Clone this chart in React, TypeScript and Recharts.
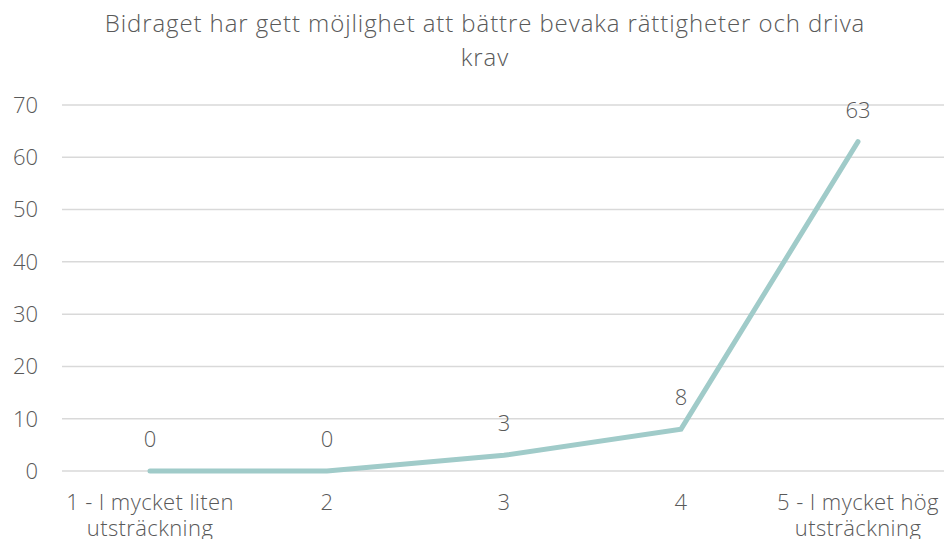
import React from 'react';
import { LineChart, Line, XAxis, YAxis, CartesianGrid, LabelList } from 'recharts';

const categories = ['1 - I mycket liten utsträckning', '2', '3', '4', '5 - I mycket hög utsträckning'];
const values = [0, 0, 3, 8, 63];
const yTicks = [0, 10, 20, 30, 40, 50, 60, 70];

const data = categories.map((name, i) => ({ name, value: values[i] }));

const FONT = '"Open Sans", Lato, sans-serif';
const TEXT = '#595959';

// wrap a label into lines of at most 18 characters
const wrap = (s: string) => {
  const lines: string[] = [];
  let cur = '';
  s.split(' ').forEach((w) => {
    const next = cur ? cur + ' ' + w : w;
    if (next.length > 18 && cur) {
      lines.push(cur);
      cur = w;
    } else {
      cur = next;
    }
  });
  if (cur) lines.push(cur);
  return lines;
};

const XTick = (props: any) => {
  const { x, y, payload } = props;
  const lines = wrap(String(payload.value));
  return (
    <text
      x={x}
      y={y}
      textAnchor="middle"
      fill={TEXT}
      fontSize={22}
      letterSpacing={0.4}
      fontFamily={FONT}
      fontWeight={300}
    >
      {lines.map((l, i) => (
        <tspan key={i} x={x} y={y + 31 + i * 26}>
          {l}
        </tspan>
      ))}
    </text>
  );
};

export default function App() {
  return (
    <div style={{ position: 'absolute', left: 0, top: 0, width: 944, height: 539, background: '#fff' }}>
      <div
        style={{
          position: 'absolute',
          left: 100,
          width: 770,
          top: 6,
          textAlign: 'center',
          fontFamily: FONT,
          fontWeight: 300,
          fontSize: 24,
          letterSpacing: 0.9,
          lineHeight: '34px',
          color: TEXT,
        }}
      >
        Bidraget har gett möjlighet att bättre bevaka rättigheter och driva krav
      </div>
      <LineChart width={944} height={539} data={data} margin={{ top: 105, right: 0, bottom: 0, left: 0 }}>
        <CartesianGrid vertical={false} stroke="#d9d9d9" strokeWidth={1.5} />
        <XAxis
          dataKey="name"
          axisLine={false}
          tickLine={false}
          height={68}
          interval={0}
          padding={{ left: 88, right: 86 }}
          tick={<XTick />}
        />
        <YAxis
          domain={[0, 70]}
          ticks={yTicks}
          width={62}
          axisLine={false}
          tickLine={false}
          tickSize={0}
          tickMargin={24}
          tick={{ fill: TEXT, fontSize: 22, fontFamily: FONT, fontWeight: 300 }}
        />
        <Line
          dataKey="value"
          stroke="#a0cbc9"
          strokeWidth={5}
          strokeLinecap="round"
          dot={false}
          activeDot={false}
          isAnimationActive={false}
        >
          <LabelList
            dataKey="value"
            position="top"
            offset={24}
            fill={TEXT}
            fontSize={22}
            fontFamily={FONT}
            fontWeight={300}
          />
        </Line>
      </LineChart>
    </div>
  );
}
